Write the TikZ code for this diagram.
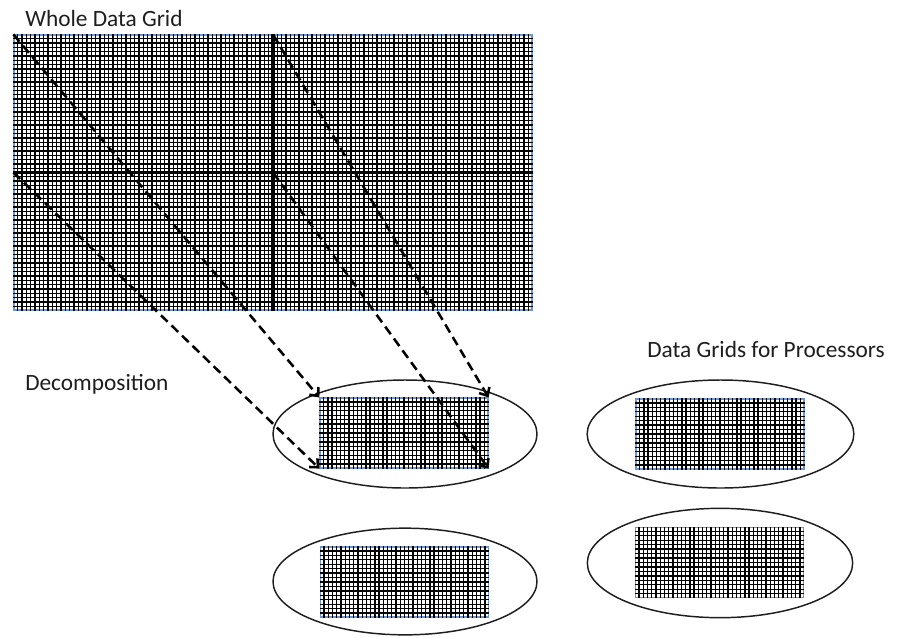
\documentclass[tikz,border=0pt]{standalone}
\usepackage{fontspec}
\setmainfont{Carlito}
\usetikzlibrary{arrows.meta,shapes.geometric,calc}
\definecolor{gridblue}{RGB}{110,150,205}
\definecolor{inkgray}{RGB}{30,30,30}
\tikzset{
  cells/.style 2 args={draw=gridblue, line width=0.9pt, inner sep=0pt,
    minimum width=#1, minimum height=#2},
  gridline/.style={black, line width=1pt},
  proc/.style={ellipse, draw=inkgray, line width=1.1pt, inner sep=0pt},
  divider/.style={black, line width=2.8pt},
  maparrow/.style={black, line width=1.9pt, dash pattern=on 7pt off 4pt,
    -{Straight Barb[length=5pt,width=9pt]}},
  heading/.style={inner sep=0pt, text=inkgray, font=\fontsize{17.5}{21}\selectfont}
}
\begin{document}
\begin{tikzpicture}[x=0.75pt, y=-0.75pt]
	\useasboundingbox (0,0) rectangle (900,637);
	% labels
	\node[heading, anchor=base west] (title) at (25,26) {Whole Data Grid};
	\node[heading, anchor=base west] (decomp) at (25,390) {Decomposition};
	\node[heading, anchor=base west] (procs) at (647,357) {Data Grids for Processors};
	% whole grid
	\node[cells={388.5pt}{206.25pt}] (whole) at (273,172.5) {};
	\foreach \i in {1,...,119}
		\draw[gridline] ($(whole.north west)!\i/120!(whole.north east)$) -- ($(whole.south west)!\i/120!(whole.south east)$);
	\foreach \j in {1,...,63}
		\draw[gridline] ($(whole.north west)!\j/64!(whole.south west)$) -- ($(whole.north east)!\j/64!(whole.south east)$);
	\draw[divider] (whole.north) -- (whole.south);
	\draw[divider] (whole.west) -- (whole.east);
	% processors
	\begin{scope} [every node/.style={cells={126pt}{52.5pt}}]
		\node (p1) at (404,433){};
		\node (p2) at (720,434){};
		\node (p3) at (404.5,582){};
		\node (p4) at (719.5,562.5){};
	\end{scope}
	\foreach \g in {p1,p2,p3,p4} {
		\foreach \i in {1,...,39}
			\draw[gridline] ($(\g.north west)!\i/40!(\g.north east)$) -- ($(\g.south west)!\i/40!(\g.south east)$);
		\foreach \j in {1,...,15}
			\draw[gridline] ($(\g.north west)!\j/16!(\g.south west)$) -- ($(\g.north east)!\j/16!(\g.south east)$);
	}
	\node[proc, minimum width=198pt, minimum height=81pt] (e1) at (405,434) {};
	\node[proc, minimum width=200pt, minimum height=81pt] (e2) at (720.5,434) {};
	\node[proc, minimum width=198pt, minimum height=80pt] (e3) at (405,581.5) {};
	\node[proc, minimum width=199pt, minimum height=82pt] (e4) at (720,563) {};
	% decomposition arrows
	\draw[maparrow] (whole.north west) -- (p1.north west);
	\draw[maparrow] (whole.west) -- (p1.south west);
	\draw[maparrow] (whole.north) -- (p1.north east);
	\draw[maparrow] (whole.center) -- (p1.south east);
\end{tikzpicture}
\end{document}
